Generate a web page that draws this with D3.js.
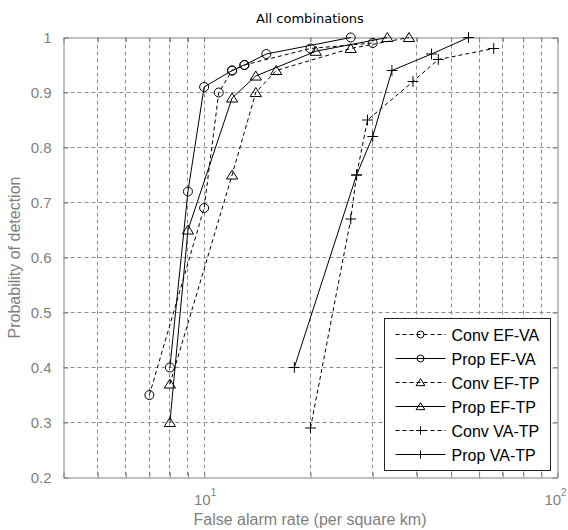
<!DOCTYPE html>
<html>
<head>
<meta charset="utf-8">
<script src="https://cdn.jsdelivr.net/npm/d3@7"></script>
<style>
  body { margin: 0; background: #fff; }
  svg text { font-family: 'Liberation Sans', Arial, sans-serif; }
  .tick-label { font-family: 'Liberation Sans Narrow', 'Liberation Sans', sans-serif; font-size: 15px; fill: #7f7f7f; }
  .axis-label { font-size: 16px; fill: #7f7f7f; }
  svg text.title { font-family: 'DejaVu Sans', sans-serif; font-size: 13px; fill: #000; }
  .legend-text { font-size: 16px; fill: #000; }
</style>
</head>
<body>
<svg class="chart" width="568" height="530"></svg>
<script>
//Data (false alarm rate, probability of detection)
const convEfVaX = [7, 10, 11, 12, 13, 20, 30];
const convEfVaY = [0.35, 0.69, 0.90, 0.94, 0.95, 0.98, 0.99];
const propEfVaX = [8, 9, 10, 12, 13, 15, 26];
const propEfVaY = [0.40, 0.72, 0.91, 0.94, 0.95, 0.97, 1.00];
const convEfTpX = [8, 12, 14, 16, 26, 38];
const convEfTpY = [0.37, 0.75, 0.90, 0.94, 0.98, 1.00];
const propEfTpX = [8, 9, 12, 14, 20.7, 33];
const propEfTpY = [0.30, 0.65, 0.89, 0.93, 0.975, 1.00];
const convVaTpX = [20, 26, 27, 29, 39, 46, 66];
const convVaTpY = [0.29, 0.67, 0.75, 0.85, 0.92, 0.96, 0.98];
const propVaTpX = [18, 27, 30, 34, 44, 56];
const propVaTpY = [0.40, 0.75, 0.82, 0.94, 0.97, 1.00];

const seriesNames = ['Conv EF-VA', 'Prop EF-VA', 'Conv EF-TP', 'Prop EF-TP', 'Conv VA-TP', 'Prop VA-TP'];
const yTicks = [0.2, 0.3, 0.4, 0.5, 0.6, 0.7, 0.8, 0.9, 1];
const yTickLabels = ['0.2', '0.3', '0.4', '0.5', '0.6', '0.7', '0.8', '0.9', '1'];
const xGridValues = [5, 6, 7, 8, 9, 10, 20, 30, 40, 50, 60, 70, 80, 90];
const xLabelValues = [10, 100];
const xLabelExps = ['1', '2'];

const series = [
  { name: seriesNames[0], xs: convEfVaX, ys: convEfVaY, dashed: true, marker: 'circle' },
  { name: seriesNames[1], xs: propEfVaX, ys: propEfVaY, dashed: false, marker: 'circle' },
  { name: seriesNames[2], xs: convEfTpX, ys: convEfTpY, dashed: true, marker: 'triangle' },
  { name: seriesNames[3], xs: propEfTpX, ys: propEfTpY, dashed: false, marker: 'triangle' },
  { name: seriesNames[4], xs: convVaTpX, ys: convVaTpY, dashed: true, marker: 'plus' },
  { name: seriesNames[5], xs: propVaTpX, ys: propVaTpY, dashed: false, marker: 'plus' },
];

const svg = d3.select('svg.chart');
const plotLeft = 63.5, plotRight = 557.5, plotTop = 37.5, plotBottom = 477.5;
const gridColor = '#8c8c8c';
const axisColor = '#808080';

let x = d3.scaleLog().domain([4, 100]).range([plotLeft, plotRight]);
let y = d3.scaleLinear().domain([0.2, 1]).range([plotBottom, plotTop]);

//snap to pixel centre so 1px lines stay crisp
function px(v) { return Math.round(v - 0.5) + 0.5; }

//Grid
svg.append('g').selectAll('line')
  .data(xGridValues)
  .enter().append('line')
    .attr('x1', d => px(x(d))).attr('x2', d => px(x(d)))
    .attr('y1', plotTop).attr('y2', plotBottom)
    .attr('stroke', gridColor).attr('stroke-dasharray', '4,3');

svg.append('g').selectAll('line')
  .data(yTicks.slice(1, -1))
  .enter().append('line')
    .attr('x1', plotLeft).attr('x2', plotRight)
    .attr('y1', d => px(y(d))).attr('y2', d => px(y(d)))
    .attr('stroke', gridColor).attr('stroke-dasharray', '4,3');

//Axes (ticks point inward)
const xTickAll = [4].concat(xGridValues, [100]);
function styleAxis(g) {
  g.selectAll('.domain').attr('stroke', axisColor);
  g.selectAll('.tick line').attr('stroke', axisColor);
}

svg.append('g')
  .attr('transform', `translate(0,${plotBottom})`)
  .call(d3.axisBottom(x).tickValues(xTickAll).tickSize(-5).tickSizeOuter(0).tickFormat(''))
  .call(styleAxis);
svg.append('g')
  .attr('transform', `translate(0,${plotTop})`)
  .call(d3.axisTop(x).tickValues(xTickAll).tickSize(-5).tickSizeOuter(0).tickFormat(''))
  .call(styleAxis);
svg.append('g')
  .attr('transform', `translate(${plotLeft},0)`)
  .call(d3.axisLeft(y).tickValues(yTicks).tickSize(-5).tickSizeOuter(0).tickPadding(12)
    .tickFormat((d, i) => yTickLabels[i]))
  .call(styleAxis)
  .call(g => g.attr('font-size', null).attr('font-family', null))
  .call(g => g.selectAll('.tick text').attr('class', 'tick-label').attr('fill', null));
svg.append('g')
  .attr('transform', `translate(${plotRight},0)`)
  .call(d3.axisRight(y).tickValues(yTicks).tickSize(-5).tickSizeOuter(0).tickFormat(''))
  .call(styleAxis);

//Log tick labels with superscript exponent (last one nudged to stay on the page)
let xLabels = svg.append('g').selectAll('text')
  .data(xLabelValues)
  .enter().append('text')
    .classed('tick-label', true)
    .attr('x', (d, i) => i === xLabelValues.length - 1 ? x(d) - 2 : x(d) + 1)
    .attr('y', 505)
    .attr('text-anchor', 'middle');
xLabels.append('tspan').text('10');
xLabels.append('tspan').attr('dy', -9).style('font-size', '10px').text((d, i) => xLabelExps[i]);

//Titles
svg.append('text').classed('title', true)
  .attr('x', 310).attr('y', 23).attr('text-anchor', 'middle')
  .text('All combinations');
svg.append('text').classed('axis-label', true)
  .attr('x', 310).attr('y', 525).attr('text-anchor', 'middle')
  .text('False alarm rate (per square km)');
svg.append('text').classed('axis-label', true)
  .attr('transform', `translate(20,${(plotTop + plotBottom) / 2}) rotate(-90)`)
  .attr('text-anchor', 'middle')
  .text('Probability of detection');

//Markers
function markerPath(type, s) {
  if (type === 'circle') {
    return `M${-s},0A${s},${s} 0 1,0 ${s},0A${s},${s} 0 1,0 ${-s},0Z`;
  }
  if (type === 'triangle') {
    return `M0,${-s * 1.1}L${s * 1.25},${s * 0.9}L${-s * 1.25},${s * 0.9}Z`;
  }
  return `M${-s * 1.2},0H${s * 1.2}M0,${-s * 1.2}V${s * 1.2}`;
}

//Draw series
let line = d3.line().x(d => x(d[0])).y(d => y(d[1]));
let plot = svg.append('g');

series.forEach(s => {
  let pts = s.xs.map((v, i) => [v, s.ys[i]]);
  plot.append('path')
    .datum(pts)
    .attr('d', line)
    .attr('fill', 'none')
    .attr('stroke', '#000')
    .attr('stroke-width', 1)
    .attr('stroke-dasharray', s.dashed ? '4,3' : null);

  plot.selectAll(null)
    .data(pts)
    .enter().append('path')
      .attr('transform', d => `translate(${x(d[0])},${y(d[1])})`)
      .attr('d', markerPath(s.marker, 4.5))
      .attr('fill', 'none')
      .attr('stroke', '#000');
});

//Legend
let legend = svg.append('g').attr('transform', 'translate(384.5,318.5)');
legend.append('rect')
  .attr('width', 166).attr('height', 152)
  .attr('fill', '#fff').attr('stroke', '#222');

let rows = legend.selectAll('g.row')
  .data(series)
  .enter().append('g')
    .classed('row', true)
    .attr('transform', (d, i) => `translate(0,${16 + i * 24})`);

rows.append('line')
  .attr('x1', 11).attr('x2', 61)
  .attr('stroke', '#000')
  .attr('stroke-dasharray', d => d.dashed ? '4,3' : null);
rows.append('path')
  .attr('transform', 'translate(36,0)')
  .attr('d', d => markerPath(d.marker, 3.5))
  .attr('fill', 'none')
  .attr('stroke', '#000');
rows.append('text')
  .classed('legend-text', true)
  .attr('x', 67).attr('y', 6)
  .text(d => d.name);
</script>
</body>
</html>
